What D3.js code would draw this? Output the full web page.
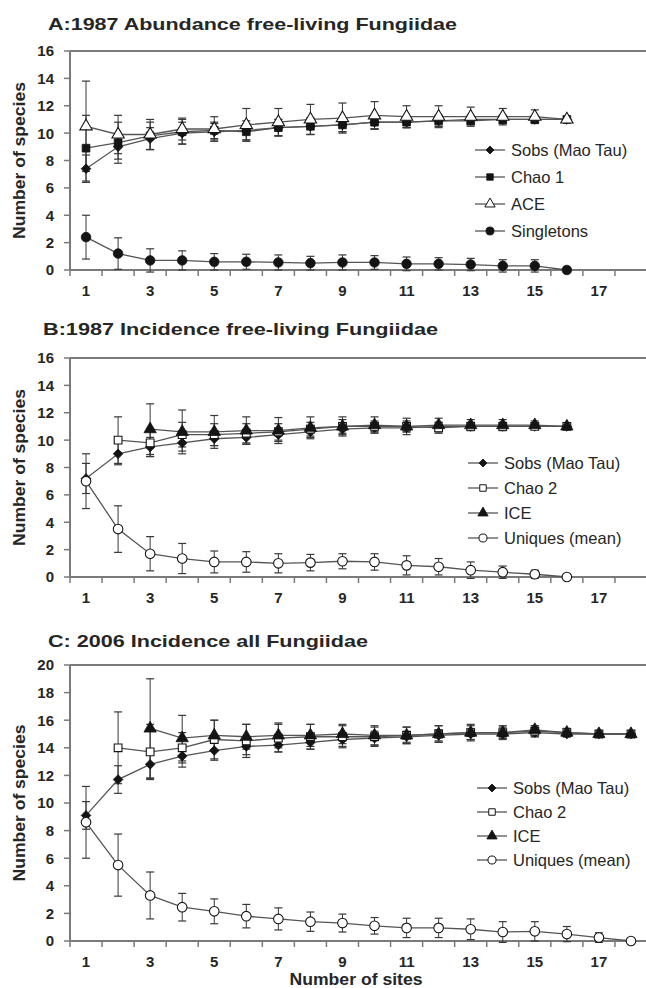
<!DOCTYPE html>
<html>
<head>
<meta charset="utf-8">
<script src="https://cdn.jsdelivr.net/npm/d3@7"></script>
<style>
html,body{margin:0;padding:0;background:#fff;}
svg{display:block;font-family:"Liberation Sans",Arial,sans-serif;}
</style>
</head>
<body>
<svg id="chart" width="646" height="988"></svg>
<script>
// ---------- DATA ----------
const sites = [1,2,3,4,5,6,7,8,9,10,11,12,13,14,15,16,17,18];
const xTickLabels = [1,3,5,7,9,11,13,15,17];
const yTicksAB = [0,2,4,6,8,10,12,14,16];
const yTicksC = [0,2,4,6,8,10,12,14,16,18,20];

// Panel A: 1987 Abundance free-living Fungiidae
const sobsA    = [7.4, 9.0, 9.6, 10.0, 10.1, 10.2, 10.4, 10.5, 10.6, 10.8, 10.8, 10.9, 11.0, 11.0, 11.0, 11.0];
const sobsA_sd = [1.0, 0.9, 0.8, 0.8, 0.6, 0.7, 0.6, 0.6, 0.5, 0.5, 0.4, 0.4, 0.3, 0.3, 0.2, 0];
const chao1A    = [8.9, 9.3, 9.8, 10.1, 10.2, 10.1, 10.4, 10.5, 10.6, 10.8, 10.8, 10.9, 10.9, 11.0, 11.0, 11.0];
const chao1A_sd = [2.4, 1.5, 1.0, 0.9, 0.6, 0.6, 0.6, 0.6, 0.5, 0.5, 0.4, 0.4, 0.3, 0.3, 0.2, 0];
const aceA    = [10.5, 9.9, 9.9, 10.3, 10.3, 10.6, 10.8, 11.0, 11.1, 11.3, 11.2, 11.2, 11.2, 11.2, 11.2, 11.0];
const aceA_sd = [3.3, 1.4, 1.1, 0.8, 0.9, 1.2, 1.0, 1.1, 1.1, 1.0, 0.8, 0.8, 0.7, 0.6, 0.5, 0];
const singA    = [2.4, 1.2, 0.7, 0.7, 0.6, 0.6, 0.55, 0.5, 0.55, 0.55, 0.45, 0.45, 0.4, 0.3, 0.3, 0];
const singA_sd = [1.6, 1.15, 0.85, 0.7, 0.6, 0.55, 0.55, 0.5, 0.55, 0.5, 0.5, 0.45, 0.45, 0.45, 0.45, 0];

// Panel B: 1987 Incidence free-living Fungiidae
const sobsB    = [7.2, 9.0, 9.5, 9.8, 10.1, 10.2, 10.4, 10.6, 10.8, 10.9, 10.9, 11.0, 11.0, 11.0, 11.0, 11.0];
const sobsB_sd = [1.1, 0.8, 0.7, 0.6, 0.5, 0.5, 0.5, 0.4, 0.4, 0.3, 0.3, 0.3, 0.2, 0.2, 0.2, 0];
const chao2B    = [null, 10.0, 9.8, 10.4, 10.4, 10.5, 10.6, 10.8, 11.0, 11.0, 11.0, 10.9, 11.0, 11.0, 11.0, 11.0];
const chao2B_sd = [0, 1.7, 1.0, 0.9, 0.8, 0.7, 0.6, 0.5, 0.5, 0.4, 0.4, 0.4, 0.3, 0.3, 0.2, 0];
const iceB    = [null, null, 10.8, 10.6, 10.6, 10.7, 10.7, 10.9, 11.0, 11.1, 11.0, 11.1, 11.1, 11.1, 11.1, 11.0];
const iceB_sd = [0, 0, 1.85, 1.6, 1.2, 1.0, 0.95, 0.8, 0.7, 0.6, 0.6, 0.5, 0.4, 0.4, 0.3, 0];
const uniqB    = [7.0, 3.5, 1.7, 1.35, 1.1, 1.1, 1.0, 1.05, 1.15, 1.1, 0.85, 0.75, 0.5, 0.35, 0.2, 0];
const uniqB_sd = [2.0, 1.7, 1.25, 1.1, 0.8, 0.75, 0.7, 0.6, 0.55, 0.6, 0.7, 0.6, 0.6, 0.45, 0.3, 0];

// Panel C: 2006 Incidence all Fungiidae
const sobsC    = [9.1, 11.7, 12.8, 13.4, 13.8, 14.1, 14.2, 14.4, 14.6, 14.7, 14.8, 14.9, 15.0, 15.0, 15.1, 15.0, 15.0, 15.0];
const sobsC_sd = [1.0, 1.0, 1.0, 0.8, 0.7, 0.6, 0.5, 0.5, 0.5, 0.5, 0.4, 0.4, 0.4, 0.3, 0.3, 0.2, 0.1, 0];
const chao2C    = [null, 14.0, 13.7, 14.0, 14.6, 14.5, 14.7, 14.8, 14.8, 14.8, 14.9, 15.0, 15.1, 15.1, 15.2, 15.1, 15.0, 15.0];
const chao2C_sd = [0, 2.6, 2.0, 1.1, 1.4, 1.2, 1.0, 0.9, 0.8, 0.7, 0.6, 0.6, 0.6, 0.5, 0.4, 0.3, 0.2, 0];
const iceC    = [null, null, 15.4, 14.7, 14.9, 14.8, 14.9, 14.9, 15.0, 14.9, 14.9, 15.0, 15.1, 15.1, 15.3, 15.1, 15.0, 15.0];
const iceC_sd = [0, 0, 3.6, 1.65, 1.1, 0.9, 0.9, 0.8, 0.7, 0.7, 0.6, 0.6, 0.5, 0.4, 0.3, 0.3, 0.1, 0];
const uniqC    = [8.6, 5.5, 3.3, 2.45, 2.15, 1.8, 1.6, 1.4, 1.3, 1.1, 0.95, 0.95, 0.85, 0.65, 0.7, 0.5, 0.25, 0];
const uniqC_sd = [2.6, 2.25, 1.7, 1.0, 0.9, 0.85, 0.8, 0.7, 0.65, 0.6, 0.7, 0.7, 0.75, 0.75, 0.7, 0.55, 0.35, 0];

// ---------- DRAWING ----------
const svg = d3.select("#chart");
const TXT = "#262626", AXIS = "#7a7a7a", LINE = "#555", MARK = "#141414", ERR = "#383838";
const x = d3.scaleLinear().domain([0.5, 18.5]).range([70, 647]);

function symbolFor(shape, legend){
  const k = legend ? 0.7 : 1;
  if(shape==="diamond") return {d: d3.symbol().type(d3.symbolSquare).size(46*k)(), rot: 45};
  if(shape==="square") return {d: d3.symbol().type(d3.symbolSquare).size(60*k)(), rot: 0};
  if(shape==="triangle") return {d: d3.symbol().type(d3.symbolTriangle).size(66*k)(), rot: 0};
  return {d: d3.symbol().type(d3.symbolCircle).size(72*k)(), rot: 0};
}

function panel(cfg){
  const y = d3.scaleLinear().domain([0, cfg.ymax]).range([cfg.y0, cfg.ytop]);
  const g = svg.append("g");
  g.append("text").attr("x", cfg.titleX).attr("y", cfg.titleY)
    .attr("font-size", 17).attr("font-weight", "bold").attr("fill", TXT)
    .attr("textLength", cfg.titleLen).attr("lengthAdjust", "spacingAndGlyphs")
    .text(cfg.title);
  g.append("line").attr("x1", x(0.5)).attr("x2", x(18.5)).attr("y1", y(cfg.ymax)).attr("y2", y(cfg.ymax))
    .attr("stroke", AXIS).attr("stroke-width", 2);
  g.append("line").attr("x1", x(0.5)).attr("x2", x(0.5)).attr("y1", y(cfg.ymax)).attr("y2", y(0))
    .attr("stroke", AXIS).attr("stroke-width", 2);
  g.append("line").attr("x1", x(0.5)).attr("x2", x(18.5)).attr("y1", y(0)).attr("y2", y(0))
    .attr("stroke", AXIS).attr("stroke-width", 2);
  cfg.yticks.forEach(t => {
    g.append("line").attr("x1", x(0.5)-6).attr("x2", x(0.5)).attr("y1", y(t)).attr("y2", y(t))
      .attr("stroke", AXIS).attr("stroke-width", 1.5);
    g.append("text").attr("x", 54).attr("y", y(t)).attr("dy", "0.36em")
      .attr("text-anchor", "end").attr("font-size", 15).attr("font-weight", "bold").attr("fill", TXT)
      .text(t);
  });
  [0.5].concat(sites.map(s => s + 0.5)).forEach(v => {
    g.append("line").attr("x1", x(v)).attr("x2", x(v)).attr("y1", y(0)).attr("y2", y(0)+6)
      .attr("stroke", AXIS).attr("stroke-width", 1.5);
  });
  xTickLabels.forEach(t => {
    g.append("text").attr("x", x(t)).attr("y", y(0)+26)
      .attr("text-anchor", "middle").attr("font-size", 15).attr("font-weight", "bold").attr("fill", TXT)
      .text(t);
  });
  const cy = (y(0)+y(cfg.ymax))/2;
  g.append("text").attr("transform", `translate(25,${cy}) rotate(-90)`)
    .attr("text-anchor", "middle").attr("font-size", 16).attr("font-weight", "bold").attr("fill", TXT)
    .attr("textLength", 157).attr("lengthAdjust", "spacingAndGlyphs")
    .text("Number of species");

  const series = cfg.series.map(s => ({
    ...s,
    pts: s.values.map((v,i) => ({x: sites[i], v, sd: s.sd[i]})).filter(p => p.v !== null)
  }));
  series.forEach(s => {
    s.pts.forEach(p => {
      if(!p.sd) return;
      const yt = y(p.v + p.sd), yb = y(p.v - p.sd), cx = x(p.x);
      g.append("line").attr("x1", cx).attr("x2", cx).attr("y1", yt).attr("y2", yb)
        .attr("stroke", ERR).attr("stroke-width", 1);
      [yt, yb].forEach(yy => g.append("line").attr("x1", cx-4).attr("x2", cx+4).attr("y1", yy).attr("y2", yy)
        .attr("stroke", ERR).attr("stroke-width", 1.2));
    });
  });
  const line = d3.line().x(p => x(p.x)).y(p => y(p.v));
  series.forEach(s => {
    g.append("path").attr("d", line(s.pts)).attr("fill", "none")
      .attr("stroke", LINE).attr("stroke-width", 1.3);
  });
  series.forEach(s => {
    const m = symbolFor(s.shape, false);
    g.selectAll(null).data(s.pts).enter().append("path")
      .attr("d", m.d)
      .attr("transform", p => `translate(${x(p.x)},${y(p.v)}) rotate(${m.rot})`)
      .attr("fill", s.filled ? MARK : "#fff")
      .attr("stroke", MARK).attr("stroke-width", s.filled ? 0.8 : 1.1);
  });
  series.forEach((s, i) => {
    const ly = cfg.legY + i*cfg.legStep;
    const m = symbolFor(s.shape, true);
    g.append("line").attr("x1", cfg.legX).attr("x2", cfg.legX+30).attr("y1", ly).attr("y2", ly)
      .attr("stroke", LINE).attr("stroke-width", 1.3);
    g.append("path").attr("d", m.d)
      .attr("transform", `translate(${cfg.legX+15},${ly}) rotate(${m.rot})`)
      .attr("fill", s.filled ? MARK : "#fff").attr("stroke", MARK).attr("stroke-width", s.filled?0.8:1);
    g.append("text").attr("x", cfg.legX+36).attr("y", ly).attr("dy", "0.36em")
      .attr("font-size", 16.5).attr("fill", TXT).text(s.name);
  });
}

panel({
  title: "A:1987 Abundance free-living Fungiidae", titleX: 48, titleY: 30, titleLen: 409,
  ymax: 16, y0: 270, ytop: 51, yticks: yTicksAB,
  legX: 475, legY: 150, legStep: 27,
  series: [
    {name: "Sobs (Mao Tau)", values: sobsA, sd: sobsA_sd, shape: "diamond", filled: true},
    {name: "Chao 1", values: chao1A, sd: chao1A_sd, shape: "square", filled: true},
    {name: "ACE", values: aceA, sd: aceA_sd, shape: "triangle", filled: false},
    {name: "Singletons", values: singA, sd: singA_sd, shape: "circle", filled: true}
  ]
});
panel({
  title: "B:1987 Incidence free-living Fungiidae", titleX: 43, titleY: 335, titleLen: 395,
  ymax: 16, y0: 577, ytop: 358, yticks: yTicksAB,
  legX: 468, legY: 463, legStep: 25,
  series: [
    {name: "Sobs (Mao Tau)", values: sobsB, sd: sobsB_sd, shape: "diamond", filled: true},
    {name: "Chao 2", values: chao2B, sd: chao2B_sd, shape: "square", filled: false},
    {name: "ICE", values: iceB, sd: iceB_sd, shape: "triangle", filled: true},
    {name: "Uniques (mean)", values: uniqB, sd: uniqB_sd, shape: "circle", filled: false}
  ]
});
panel({
  title: "C: 2006 Incidence all Fungiidae", titleX: 48, titleY: 647, titleLen: 320,
  ymax: 20, y0: 941, ytop: 665, yticks: yTicksC,
  legX: 477, legY: 788, legStep: 24,
  series: [
    {name: "Sobs (Mao Tau)", values: sobsC, sd: sobsC_sd, shape: "diamond", filled: true},
    {name: "Chao 2", values: chao2C, sd: chao2C_sd, shape: "square", filled: false},
    {name: "ICE", values: iceC, sd: iceC_sd, shape: "triangle", filled: true},
    {name: "Uniques (mean)", values: uniqC, sd: uniqC_sd, shape: "circle", filled: false}
  ]
});
svg.append("text").attr("x", 356).attr("y", 985).attr("text-anchor", "middle")
  .attr("font-size", 16).attr("font-weight", "bold").attr("fill", TXT)
  .attr("textLength", 133).attr("lengthAdjust", "spacingAndGlyphs")
  .text("Number of sites");
</script>
</body>
</html>
